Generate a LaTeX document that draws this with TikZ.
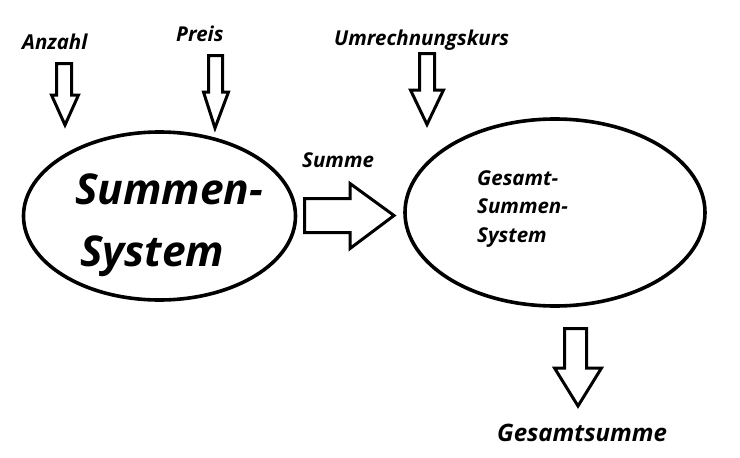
\documentclass[tikz,border=0pt]{standalone}
\usepackage{fontspec}
\setmainfont{Open Sans}
\usetikzlibrary{shapes.geometric}
\tikzset{
  sysbox/.style={draw, ellipse, line width=3.6pt, inner sep=0pt},
  blockarrow/.style={draw, line width=3pt, fill=white, line join=miter},
  lbl/.style={font=\fontsize{20.5}{24}\selectfont\bfseries\itshape, inner sep=0pt, anchor=base west},
  biglbl/.style={font=\fontsize{42.5}{62}\selectfont\bfseries\itshape, inner sep=0pt, anchor=base west},
}
\begin{document}
\begin{tikzpicture}[x=1pt,y=-1pt]
\useasboundingbox (0,0) rectangle (740,458);
\fill[white] (0,0) rectangle (740,458);
% systems
\node[sysbox, minimum width=272pt, minimum height=168pt] (sys) at (159.5,216) {};
\node[sysbox, minimum width=300pt, minimum height=187pt] (gsys) at (555,212.5) {};
% texts
\node[biglbl] (t1) at (75,204) {Summen-};
\node[biglbl] (t2) at (80,266) {System};
\node[lbl] (g1) at (477,185) {Gesamt-};
\node[lbl] (g2) at (477,213) {Summen-};
\node[lbl] (g3) at (477,242) {System};
\node[lbl] (anzahl) at (22,49) {Anzahl};
\node[lbl] (preis) at (176,41) {Preis};
\node[lbl] (kurs) at (334,45) {Umrechnungskurs};
\node[lbl] (summe) at (302,167) {Summe};
\node[lbl, font=\fontsize{24}{28}\selectfont\bfseries\itshape] (gsumme) at (497,441) {Gesamtsumme};
% block arrows
\draw[blockarrow] (56.5,63.5) -- (71.5,63.5) -- (71.5,95) -- (78.5,95) -- (65,125) -- (51.5,95) -- (56.5,95) -- cycle;
\draw[blockarrow] (208.5,55.5) -- (222.5,55.5) -- (222.5,92) -- (228.5,92) -- (215,128) -- (203.5,92) -- (208.5,92) -- cycle;
\draw[blockarrow] (419.5,53.5) -- (434.5,53.5) -- (434.5,90) -- (443.5,90) -- (427,124.5) -- (410.5,90) -- (419.5,90) -- cycle;
\draw[blockarrow] (304.5,198.5) -- (350,198.5) -- (350,183.5) -- (394,215.5) -- (350,248.5) -- (350,232.5) -- (304.5,232.5) -- cycle;
\draw[blockarrow] (564.5,328.5) -- (586.5,328.5) -- (586.5,368) -- (601.5,368) -- (578,406) -- (554.5,368) -- (564.5,368) -- cycle;
\end{tikzpicture}
\end{document}
